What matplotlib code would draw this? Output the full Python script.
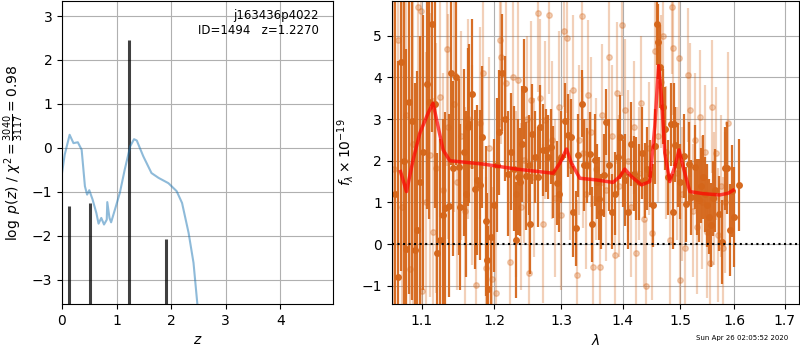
import matplotlib
matplotlib.use("Agg")
import matplotlib.pyplot as plt
from matplotlib.ticker import NullLocator

## p(z) curve
z_grid = [0.00, 0.05, 0.14, 0.21, 0.29, 0.36, 0.42, 0.46, 0.50, 0.56, 0.63, 0.67,
          0.72, 0.77, 0.82, 0.83, 0.87, 0.90, 0.97, 1.06, 1.15, 1.25, 1.32, 1.37,
          1.49, 1.64, 1.77, 1.95, 2.10, 2.20, 2.32, 2.41, 2.48, 2.55]
logpz = [-0.57, -0.15, 0.30, 0.11, 0.13, -0.04, -0.87, -1.06, -0.96, -1.17, -1.48, -1.72,
         -1.59, -1.74, -1.63, -1.23, -1.59, -1.69, -1.40, -1.02, -0.49, 0.04, 0.20, 0.17,
         -0.19, -0.57, -0.68, -0.80, -0.98, -1.25, -1.93, -2.61, -3.54, -4.50]

## the black bars
bar_z = [0.13, 0.52, 1.22, 1.91]
bar_val = [-1.33, -1.25, 2.45, -2.07]

## spectrum, first set (dark)
wave_a = [1.0650, 1.0690, 1.0731, 1.0765, 1.0795, 1.0834, 1.0877, 1.0911, 1.0941, 1.0980,
          1.1018, 1.1063, 1.1098, 1.1138, 1.1173, 1.1209, 1.1240, 1.1285, 1.1312, 1.1362,
          1.1393, 1.1420, 1.1461, 1.1498, 1.1521, 1.1570, 1.1600, 1.1624, 1.1642, 1.1689,
          1.1725, 1.1749, 1.1796, 1.1830, 1.1876, 1.1900, 1.1915, 1.1952, 1.2001, 1.2040,
          1.2068, 1.2112, 1.2156, 1.2205, 1.2239, 1.2279, 1.2313, 1.2342, 1.2376, 1.2410,
          1.2436, 1.2461, 1.2502, 1.2526, 1.2561, 1.2601, 1.2640, 1.2677, 1.2718, 1.2764,
          1.2805, 1.2845, 1.2882, 1.2933, 1.2966, 1.3000, 1.3062, 1.3116, 1.3152, 1.3195,
          1.3232, 1.3274, 1.3327, 1.3370, 1.3407, 1.3461, 1.3493, 1.3532, 1.3565, 1.3597,
          1.3639, 1.3679, 1.3716, 1.3771, 1.3816, 1.3861, 1.3916, 1.3955, 1.3995, 1.4039,
          1.4085, 1.4141, 1.4182, 1.4226, 1.4267, 1.4324, 1.4371, 1.4411, 1.4468, 1.4509,
          1.4555, 1.4585, 1.4602, 1.4643, 1.4690, 1.4731, 1.4780, 1.4837, 1.4862, 1.4880,
          1.4908, 1.4950, 1.5000, 1.5059, 1.5101, 1.5150, 1.5197, 1.5259, 1.5301, 1.5332,
          1.5370, 1.5405, 1.5445, 1.5485, 1.5528, 1.5565, 1.5600, 1.5640, 1.5704, 1.5768,
          1.5830, 1.5863, 1.5926, 1.5959, 1.6003, 1.6084]
flux_a = [1.20, -0.80, 4.36, 2.00, -0.11, 3.40, 2.96, -0.14, 0.35, 1.50,
          2.20, 3.85, 3.41, 5.29, 3.37, -0.22, 0.11, 0.69, 0.86, 0.92,
          4.10, 1.82, 4.00, 1.85, 0.89, 2.20, 1.20, 2.81, 2.89, 3.61,
          1.31, 1.53, 1.41, 2.57, 0.56, -0.38, -1.07, 0.16, 0.93, 1.90,
          2.68, 4.11, 3.01, 1.69, 2.22, 1.81, 0.10, 1.61, 1.49, 2.40,
          3.71, 1.63, 1.89, 0.48, 2.65, 2.09, 1.60, 2.81, 2.25, 2.25,
          2.09, 2.33, 1.73, 1.47, 1.20, 2.09, 2.96, 2.61, 2.57, 0.78,
          0.38, 2.13, 3.37, 1.89, 1.89, 2.17, 0.48, 2.01, 1.50, 1.09,
          0.78, 1.65, 2.93, 1.89, 0.78, 1.21, 2.09, 2.57, 1.69, 1.53,
          0.78, 2.40, 1.69, 1.57, 1.49, 2.18, 1.53, 1.81, 1.69, 0.93,
          2.35, 5.29, 4.85, 4.26, 3.30, 2.77, 1.60, 2.87, 0.78, 2.87,
          2.38, 1.90, 1.50, 2.11, 0.96, 1.93, 1.12, 1.85, 1.13, 1.05,
          1.40, 1.61, 1.20, 0.93, 0.66, 0.46, 1.10, 1.29, 0.73, 0.05,
          1.82, 1.82, 0.34, 1.28, 0.65, 1.41]
err_a = [5.0, 5.2, 5.0, 4.9, 4.8, 4.6, 4.3, 4.0, 3.8, 3.5,
         3.3, 3.0, 2.8, 2.6, 2.5, 2.4, 2.4, 2.3, 2.3, 2.2,
         2.2, 2.1, 2.1, 2.1, 2.0, 2.0, 2.0, 1.9, 1.9, 1.8,
         1.9, 1.8, 1.8, 1.7, 1.8, 1.6, 1.5, 1.7, 1.6, 1.6,
         1.5, 1.4, 1.5, 1.5, 1.4, 1.5, 1.4, 1.4, 1.3, 1.4,
         1.2, 1.3, 1.2, 1.2, 1.2, 1.1, 1.2, 1.0, 1.1, 1.0,
         1.0, 0.9, 1.1, 1.0, 0.9, 1.1, 0.9, 1.0, 0.9, 1.1,
         0.9, 1.0, 0.8, 1.1, 0.9, 1.0, 0.9, 1.1, 0.9, 1.0,
         0.9, 1.0, 0.8, 1.1, 0.9, 1.0, 0.9, 1.0, 0.8, 1.1,
         0.9, 1.0, 0.9, 1.0, 0.9, 1.1, 0.9, 1.0, 0.8, 1.0,
         0.9, 1.0, 0.9, 1.0, 0.9, 1.0, 0.9, 1.0, 0.9, 1.0,
         0.9, 1.0, 0.9, 1.0, 0.9, 1.0, 0.9, 1.0, 0.9, 1.0,
         0.9, 1.0, 0.9, 1.0, 0.9, 1.0, 0.9, 1.0, 0.9, 1.0,
         1.0, 1.1, 1.1, 1.1, 1.2, 1.1]

## spectrum, second set (light)
wave_b = [1.0640, 1.0690, 1.0740, 1.0790, 1.0840, 1.0890, 1.0951, 1.0996, 1.1009, 1.1060,
          1.1106, 1.1150, 1.1195, 1.1240, 1.1290, 1.1339, 1.1358, 1.1431, 1.1480, 1.1530,
          1.1580, 1.1630, 1.1680, 1.1735, 1.1790, 1.1838, 1.1886, 1.1930, 1.1972, 1.2029,
          1.2079, 1.2103, 1.2166, 1.2224, 1.2273, 1.2310, 1.2347, 1.2390, 1.2436, 1.2480,
          1.2511, 1.2536, 1.2590, 1.2647, 1.2672, 1.2723, 1.2749, 1.2810, 1.2860, 1.2910,
          1.2960, 1.3000, 1.3048, 1.3095, 1.3140, 1.3190, 1.3243, 1.3290, 1.3332, 1.3348,
          1.3400, 1.3429, 1.3470, 1.3510, 1.3560, 1.3618, 1.3660, 1.3720, 1.3771, 1.3820,
          1.3866, 1.3894, 1.3940, 1.3977, 1.4032, 1.4080, 1.4130, 1.4180, 1.4230, 1.4270,
          1.4316, 1.4360, 1.4402, 1.4440, 1.4489, 1.4547, 1.4600, 1.4650, 1.4693, 1.4750,
          1.4811, 1.4841, 1.4870, 1.4930, 1.4977, 1.4989, 1.5030, 1.5079, 1.5140, 1.5170,
          1.5220, 1.5260, 1.5310, 1.5353, 1.5400, 1.5446, 1.5490, 1.5538, 1.5570, 1.5620,
          1.5663, 1.5694, 1.5740, 1.5789, 1.5830, 1.5873]
flux_b = [1.80, 4.90, 0.90, 3.10, -0.60, 2.40, 5.69, 5.58, -1.13, 1.00,
          2.14, 0.30, 1.82, 3.54, 1.30, 4.67, 2.82, 3.36, 1.50, 2.60,
          0.80, 3.00, 1.90, -0.97, 2.90, 4.10, -0.58, 2.30, -0.84, -1.17,
          4.90, 4.50, 3.86, -0.42, 4.00, 1.20, 3.94, 0.90, 2.02, 3.00,
          -0.69, 3.46, 1.60, 5.54, 3.50, 0.49, 2.98, 5.50, 2.50, 1.10,
          3.30, 0.70, 5.10, 4.94, 1.90, 3.70, -0.73, 2.50, 5.46, 2.18,
          1.20, 3.58, 2.70, -0.54, 1.80, -0.54, 3.10, 1.30, 4.50, 2.60,
          -0.26, 3.62, 1.40, 5.26, 3.22, 2.00, 0.90, 2.80, -0.22, 1.70,
          3.38, 0.60, -1.01, 2.30, 0.26, 4.62, 2.60, 3.90, 5.00, 2.20,
          0.10, 5.69, 4.70, 1.70, 4.46, -0.85, 1.20, -0.10, 4.06, 3.22,
          0.80, 2.50, 0.40, 3.06, 1.00, 2.22, 0.30, -0.46, 3.30, 1.10,
          2.18, 0.22, 1.40, -0.10, 1.00, 2.90]
err_b = [5.0, 5.0, 5.0, 4.8, 4.6, 4.4, 4.2, 4.0, 3.8, 3.6,
         3.4, 3.2, 3.0, 2.9, 2.8, 2.8, 2.7, 2.6, 2.6, 2.5,
         2.5, 2.4, 2.4, 2.3, 2.3, 2.3, 2.2, 2.2, 2.2, 2.2,
         2.1, 2.1, 2.1, 2.1, 2.0, 2.0, 2.0, 2.0, 2.0, 2.0,
         1.9, 1.9, 1.9, 1.9, 1.9, 1.9, 1.9, 1.9, 1.9, 1.9,
         1.8, 1.8, 1.8, 1.8, 1.8, 1.8, 1.8, 1.8, 1.8, 1.8,
         1.8, 1.8, 1.8, 1.7, 1.7, 1.7, 1.7, 1.7, 1.7, 1.7,
         1.7, 1.7, 1.7, 1.7, 1.7, 1.7, 1.7, 1.6, 1.6, 1.6,
         1.6, 1.6, 1.6, 1.6, 1.6, 1.6, 1.6, 1.6, 1.6, 1.6,
         1.6, 1.6, 1.6, 1.6, 1.6, 1.6, 1.6, 1.6, 1.6, 1.6,
         1.6, 1.6, 1.6, 1.6, 1.6, 1.6, 1.6, 1.6, 1.6, 1.6,
         1.6, 1.6, 1.7, 1.7, 1.7, 1.7]

## best fit model
wave_m = [1.0723, 1.0800, 1.0886, 1.0974, 1.1083, 1.1150, 1.1217, 1.1285, 1.1376, 1.1839,
          1.2323, 1.2876, 1.2980, 1.3085, 1.3163, 1.3295, 1.3563, 1.3836, 1.3948, 1.4032,
          1.4145, 1.4316, 1.4459, 1.4546, 1.4612, 1.4663, 1.4722, 1.4810, 1.4900, 1.4976,
          1.5048, 1.5170, 1.5414, 1.5726, 1.5883, 1.5979]
flux_m = [1.74, 1.26, 2.02, 2.66, 3.14, 3.38, 2.82, 2.26, 2.00, 1.92,
          1.80, 1.70, 1.94, 2.28, 1.94, 1.58, 1.54, 1.48, 1.62, 1.80,
          1.62, 1.42, 1.50, 2.82, 4.28, 3.54, 2.18, 1.50, 1.86, 2.26,
          1.86, 1.26, 1.21, 1.18, 1.22, 1.29]

lam_ticks = [1.1, 1.2, 1.3, 1.4, 1.5, 1.6, 1.7]

spec_color = '#d5661a'

fig = plt.figure(figsize=(8, 3.5), dpi=100)

## left panel, p(z)
ax1 = fig.add_axes([0.0775, 0.131, 0.339, 0.866])
ax1.vlines(bar_z, -10, bar_val, color='k', alpha=0.75, linewidth=2.2)
ax1.plot(z_grid, logpz, color='#1f77b4', alpha=0.5, linewidth=1.5)
ax1.set_xlim(0, 4.97)
ax1.set_ylim(-3.55, 3.34)
ax1.set_xticks([0, 1, 2, 3, 4])
ax1.set_yticks([-3, -2, -1, 0, 1, 2, 3])
ax1.grid()
ax1.set_xlabel(r'$z$')
ax1.set_ylabel(r'$\log\ p(z)$' + ' / ' + r'$\chi^2=\frac{3040}{3117}=0.98$')
ax1.text(0.947, 0.975, 'j163436p4022\nID=1494   z=1.2270', transform=ax1.transAxes,
         ha='right', va='top', fontsize=8.5)

## right panel, spectrum
ax2 = fig.add_axes([0.4896, 0.131, 0.509, 0.866])
ax2.errorbar(wave_b, flux_b, yerr=err_b, color=spec_color, alpha=0.3,
             marker='o', markersize=4, linestyle='none', elinewidth=1.6)
ax2.errorbar(wave_a, flux_a, yerr=err_a, color=spec_color, alpha=0.95,
             marker='o', markersize=4, linestyle='none', elinewidth=1.6)
ax2.plot(wave_m, flux_m, color='r', alpha=0.7, linewidth=2.5, zorder=5)
ax2.axhline(0, color='k', linestyle=':', linewidth=1.5, zorder=6)
ax2.set_xscale('log')
ax2.set_xlim(1.061, 1.729)
ax2.set_ylim(-1.44, 5.83)
ax2.set_xticks(lam_ticks)
ax2.set_xticklabels([str(t) for t in lam_ticks])
ax2.xaxis.set_minor_locator(NullLocator())
ax2.set_yticks([-1, 0, 1, 2, 3, 4, 5])
ax2.grid()
ax2.set_xlabel(r'$\lambda$')
ax2.set_ylabel(r'$f_\lambda\times10^{-19}$')

fig.text(0.985, 0.025, 'Sun Apr 26 02:05:52 2020', ha='right', va='bottom', fontsize=5)

plt.savefig('out.png', dpi=100)
